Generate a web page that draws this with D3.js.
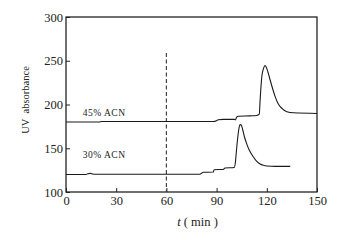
<!DOCTYPE html>
<html>
<head>
<meta charset="utf-8">
<script src="https://cdn.jsdelivr.net/npm/d3@7"></script>
<style>
  body { margin: 0; background: #fff; }
  svg { display: block; }
  svg text { font-family: "Liberation Serif", "DejaVu Serif", serif; fill: #222; }
</style>
</head>
<body>
<script>
// chromatogram traces, [t (min), UV absorbance]
const acn45 = [
  [0, 180], [20, 180], [21, 180.5], [88, 180.5], [90, 181.5], [91, 182.5], [94, 183],
  [100.5, 183], [101.2, 182.3], [102, 185.5], [103, 186.5], [110, 187], [114, 187.5],
  [115.5, 189], [116, 205], [117, 231.5], [118, 241], [119, 244.5], [120, 241],
  [121, 235], [122, 228], [123.5, 218], [125, 209], [126.5, 202], [128, 197.5],
  [130, 194], [132, 191.8], [136, 190.5], [150, 189.8]
];
const acn30 = [
  [0, 120], [12, 120], [13, 120.8], [14.5, 121.3], [16, 120.5], [17, 120.3],
  [80, 120.3], [81, 121.5], [82, 122.5], [88, 122.8], [88.5, 125.5], [94, 125.8],
  [95, 127.5], [100.5, 128], [101.3, 135], [101.8, 146], [102.5, 160], [103.3, 172],
  [104, 177], [104.7, 176.5], [105.5, 172], [106.5, 164], [108, 155], [109.5, 148],
  [112, 140], [114, 135], [116, 132], [118, 130.5], [120, 129.7], [125, 129.3], [134, 129.3]
];
const traceLabels = ["45% ACN", "30% ACN"];
const labelAt = [[10, 187], [10, 139]];
const marker = { t: 60, top: 259 };

const xTicks = [0, 30, 60, 90, 120, 150];
const yTicks = [100, 150, 200, 250, 300];

const W = 351, H = 240;
const margin = { top: 17, right: 34, bottom: 48, left: 66 };
const width = W - margin.left - margin.right;
const height = H - margin.top - margin.bottom;
const serif = "'Liberation Serif', 'DejaVu Serif', serif";

const x = d3.scaleLinear().domain([0, 150]).range([0, width]);
const y = d3.scaleLinear().domain([100, 300]).range([height, 0]);

const svg = d3.select("body").append("svg")
    .attr("width", W)
    .attr("height", H)
    .style("font-family", serif);

const main = svg.append("g")
    .attr("transform", "translate(" + margin.left + "," + margin.top + ")");

// frame
main.append("rect")
    .attr("width", width)
    .attr("height", height)
    .attr("fill", "none")
    .attr("stroke", "#111")
    .attr("stroke-width", 1.2);

const xAxis = d3.axisBottom(x).tickValues(xTicks).tickSizeInner(-4).tickSizeOuter(0).tickPadding(4);
const gx = main.append("g")
    .attr("transform", "translate(0," + height + ")")
    .call(xAxis);

const yAxis = d3.axisLeft(y).tickValues(yTicks).tickSizeInner(-4).tickSizeOuter(0).tickPadding(3);
const gy = main.append("g").call(yAxis);

[gx, gy].forEach(g => {
  g.attr("font-family", null);
  g.select(".domain").remove();
  g.selectAll(".tick line").attr("stroke", "#222").attr("stroke-width", 1);
  g.selectAll(".tick text")
      .style("font-family", serif)
      .attr("font-size", 12.5)
      .attr("fill", "#222");
});

// dashed marker
main.append("line")
    .attr("x1", x(marker.t)).attr("x2", x(marker.t))
    .attr("y1", y(marker.top)).attr("y2", y(100))
    .attr("stroke", "#444")
    .attr("stroke-width", 1.2)
    .attr("stroke-dasharray", "4,2.5");

const line = d3.line()
    .x(d => x(d[0]))
    .y(d => y(d[1]))
    .curve(d3.curveMonotoneX);

[acn45, acn30].forEach(series => {
  main.append("path")
      .datum(series)
      .attr("fill", "none")
      .attr("stroke", "#1a1a1a")
      .attr("stroke-width", 1.1)
      .attr("d", line);
});

traceLabels.forEach((t, i) => {
  main.append("text")
      .attr("x", x(labelAt[i][0]))
      .attr("y", y(labelAt[i][1]))
      .attr("font-size", 9.5)
      .attr("letter-spacing", 0.5)
      .text(t);
});

// axis titles
const xt = svg.append("text")
    .attr("x", margin.left + width / 2 + 6)
    .attr("y", 226)
    .attr("text-anchor", "middle")
    .attr("font-size", 12.5);
xt.append("tspan").attr("font-style", "italic").text("t");
xt.append("tspan").text(" ( min )");

svg.append("text")
    .attr("transform", "translate(29,100) rotate(-90)")
    .attr("text-anchor", "middle")
    .attr("font-size", 10.5)
    .text("UV\u00a0\u00a0absorbance");
</script>
</body>
</html>
